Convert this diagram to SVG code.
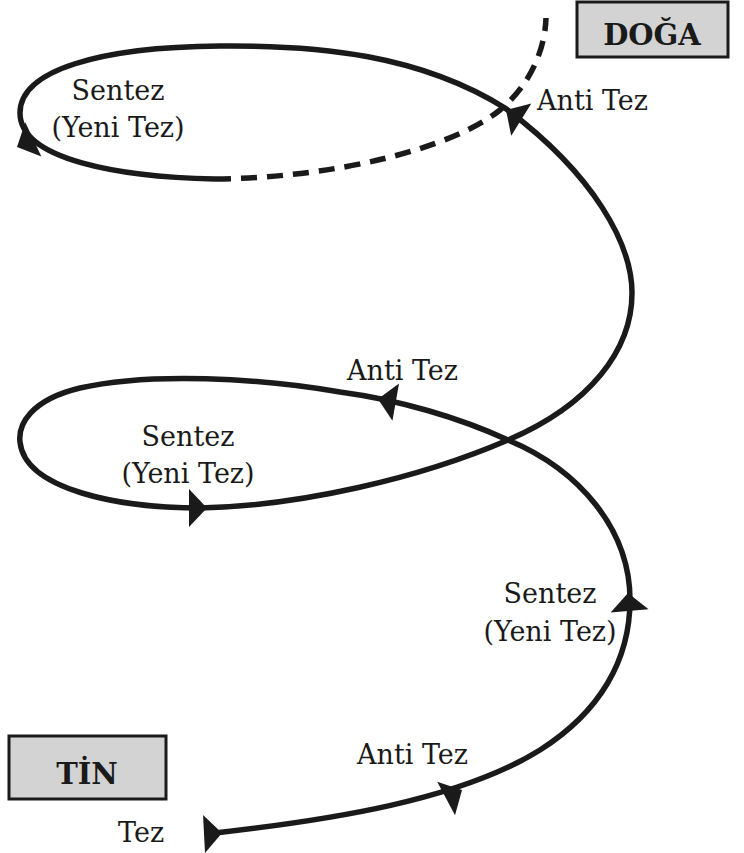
<svg xmlns="http://www.w3.org/2000/svg" width="744" height="853" viewBox="0 0 744 853">
<style>
.t{font-family:"DejaVu Serif","Liberation Serif",serif;font-size:27px;fill:#1a1a1a}
.b{font-family:"DejaVu Serif","Liberation Serif",serif;font-size:29px;font-weight:bold;fill:#1a1a1a}
.box{fill:#d3d3d3;stroke:#1a1a1a;stroke-width:3}
.ln{fill:none;stroke:#1a1a1a;stroke-width:5.5}
.ah{fill:#1a1a1a}
</style>
<defs>
<path id="ah" d="M0,0 L-18,-19 L-18,19 Z"/>
</defs>
<rect width="744" height="853" fill="#fff"/>
<g id="connectors">
<path class="ln" d="M215,833 C330,820 460,800 540,750 C600,712 630,660 630,600 C630,530 580,470 508,440 C460,418 400,400 340,392 C260,378 150,372 80,388 C30,400 18,425 20,442 C25,490 120,508 200,508 C300,506 420,478 508,440 C590,405 632,350 632,293 C632,245 595,175 505,108 C420,55 320,45 220,46 C100,47 20,70 20,113 C20,160 120,177 215,179"/>
<path class="ln" stroke-dasharray="16 10" d="M215,179 C330,178 450,150 500,110 C530,85 545,50 546,18"/>
<use href="#ah" class="ah" transform="translate(222,833) rotate(-3)"/>
<use href="#ah" class="ah" transform="translate(462,790) rotate(-28)"/>
<use href="#ah" class="ah" transform="translate(628,593) rotate(-95)"/>
<use href="#ah" class="ah" transform="translate(378,399) rotate(190)"/>
<use href="#ah" class="ah" transform="translate(207,508) rotate(0)"/>
<use href="#ah" class="ah" transform="translate(506,110) rotate(212)"/>
<use href="#ah" class="ah" transform="translate(17,147) rotate(155)"/>
</g>
<g id="doga">
<rect class="box" x="577" y="2" width="151" height="55"/>
<text class="b" x="652" y="45" text-anchor="middle">DOĞA</text>
</g>
<g id="tin">
<rect class="box" x="9" y="736" width="157" height="63"/>
<text class="b" x="87" y="784" text-anchor="middle">TİN</text>
</g>
<g id="labels">
<text class="t" x="118" y="100" text-anchor="middle">Sentez</text>
<text class="t" x="118" y="137" text-anchor="middle">(Yeni Tez)</text>
<text class="t" x="537" y="110">Anti Tez</text>
<text class="t" x="347" y="380">Anti Tez</text>
<text class="t" x="188" y="446" text-anchor="middle">Sentez</text>
<text class="t" x="188" y="483" text-anchor="middle">(Yeni Tez)</text>
<text class="t" x="550" y="603" text-anchor="middle">Sentez</text>
<text class="t" x="550" y="641" text-anchor="middle">(Yeni Tez)</text>
<text class="t" x="357" y="764">Anti Tez</text>
<text class="t" x="118" y="842">Tez</text>
</g>
</svg>
